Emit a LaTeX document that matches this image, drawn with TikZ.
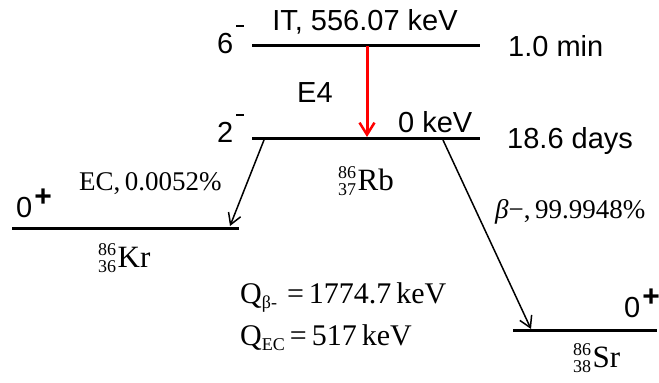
\documentclass[tikz,border=0pt]{standalone}
\usepackage{fontspec}
\setmainfont{Liberation Serif}
\setsansfont{Liberation Sans}
\usetikzlibrary{arrows.meta}
\newcommand\supm{\hspace{3pt}\rule[26pt]{8pt}{1.8pt}}
\newcommand\supp{{\fontsize{30}{30}\selectfont\bfseries\hspace{2pt}\raisebox{11pt}{+}}}
\newcommand\nucl[3]{{\fontsize{18}{18}\selectfont\raisebox{12pt}{#1}\llap{\raisebox{-5pt}{#2}}}\hspace{1.5pt}#3}
\begin{document}
\begin{tikzpicture}[x=1pt,y=-1pt,
  level/.style={line width=3pt},
  sf/.style={font=\fontsize{29}{29}\selectfont\sffamily, inner sep=0pt},
  rm/.style={font=\fontsize{27}{27}\selectfont\rmfamily, inner sep=0pt},
  qtxt/.style={font=\fontsize{30}{30}\selectfont\rmfamily, inner sep=0pt},
  nuc/.style={font=\fontsize{31}{31}\selectfont\rmfamily, inner sep=0pt},
  trans/.style={line width=1.5pt,-{Straight Barb[length=11pt,width=13pt,line width=1.5pt]}},
  gamma/.style={line width=3pt,red,-{Straight Barb[length=12pt,width=15pt,line width=2.5pt]}},
]
\useasboundingbox (0,0) rectangle (659,383);
% levels
\coordinate (a1) at (252,45);  \coordinate (a2) at (480,45);
\coordinate (g1) at (252,138); \coordinate (g2) at (480,138);
\coordinate (k1) at (12,228);  \coordinate (k2) at (239,228);
\coordinate (s1) at (513,330); \coordinate (s2) at (657,330);
\draw[level] (a1) -- (a2);
\draw[level] (g1) -- (g2);
\draw[level] (k1) -- (k2);
\draw[level] (s1) -- (s2);
% transitions
\coordinate (itS) at (367,46);  \coordinate (itE) at (367,137);
\coordinate (ecS) at (264,140); \coordinate (ecE) at (230,226);
\coordinate (bS) at (443,140);  \coordinate (bE) at (531,329);
\draw[gamma] (itS) -- (itE);
\draw[trans] (ecS) -- (ecE);
\draw[trans] (bS) -- (bE);
% labels
\node[sf,anchor=base] (itl) at (365,30) {IT, 556.07 keV};
\node[sf,anchor=base west] (j6) at (217,53) {6\supm};
\node[sf,anchor=base west] (t6) at (508,56) {1.0 min};
\node[sf,anchor=base west] (e4) at (297,102) {E4};
\node[sf,anchor=base west] (j2) at (217,142) {2\supm};
\node[sf,anchor=base west] (kev) at (398,132) {0 keV};
\node[sf,anchor=base west] (t2) at (507,148) {18.6 days};
\node[sf,anchor=base west] (jk) at (16,217) {0\supp};
\node[sf,anchor=base west] (js) at (624,317) {0\supp};
\node[rm,anchor=base west] (ecl) at (79,190) {EC,\,0.0052\%};
\node[rm,anchor=base west] (bl) at (495,218) {\textit{β}−,\,99.9948\%};
\node[nuc,anchor=base west] (rb) at (338,190) {\nucl{86}{37}{Rb}};
\node[nuc,anchor=base west] (kr) at (98,267) {\nucl{86}{36}{Kr}};
\node[nuc,anchor=base west] (sr) at (573,367) {\nucl{86}{38}{Sr}};
\node[qtxt,anchor=base west] (qb) at (240,303) {Q\raisebox{-5pt}{\fontsize{18}{18}\selectfont β-}\,\,=\,1774.7\,keV};
\node[qtxt,anchor=base west] (qe) at (240,345) {Q\raisebox{-5pt}{\fontsize{18}{18}\selectfont EC}\,=\,517\,keV};
\end{tikzpicture}
\end{document}
